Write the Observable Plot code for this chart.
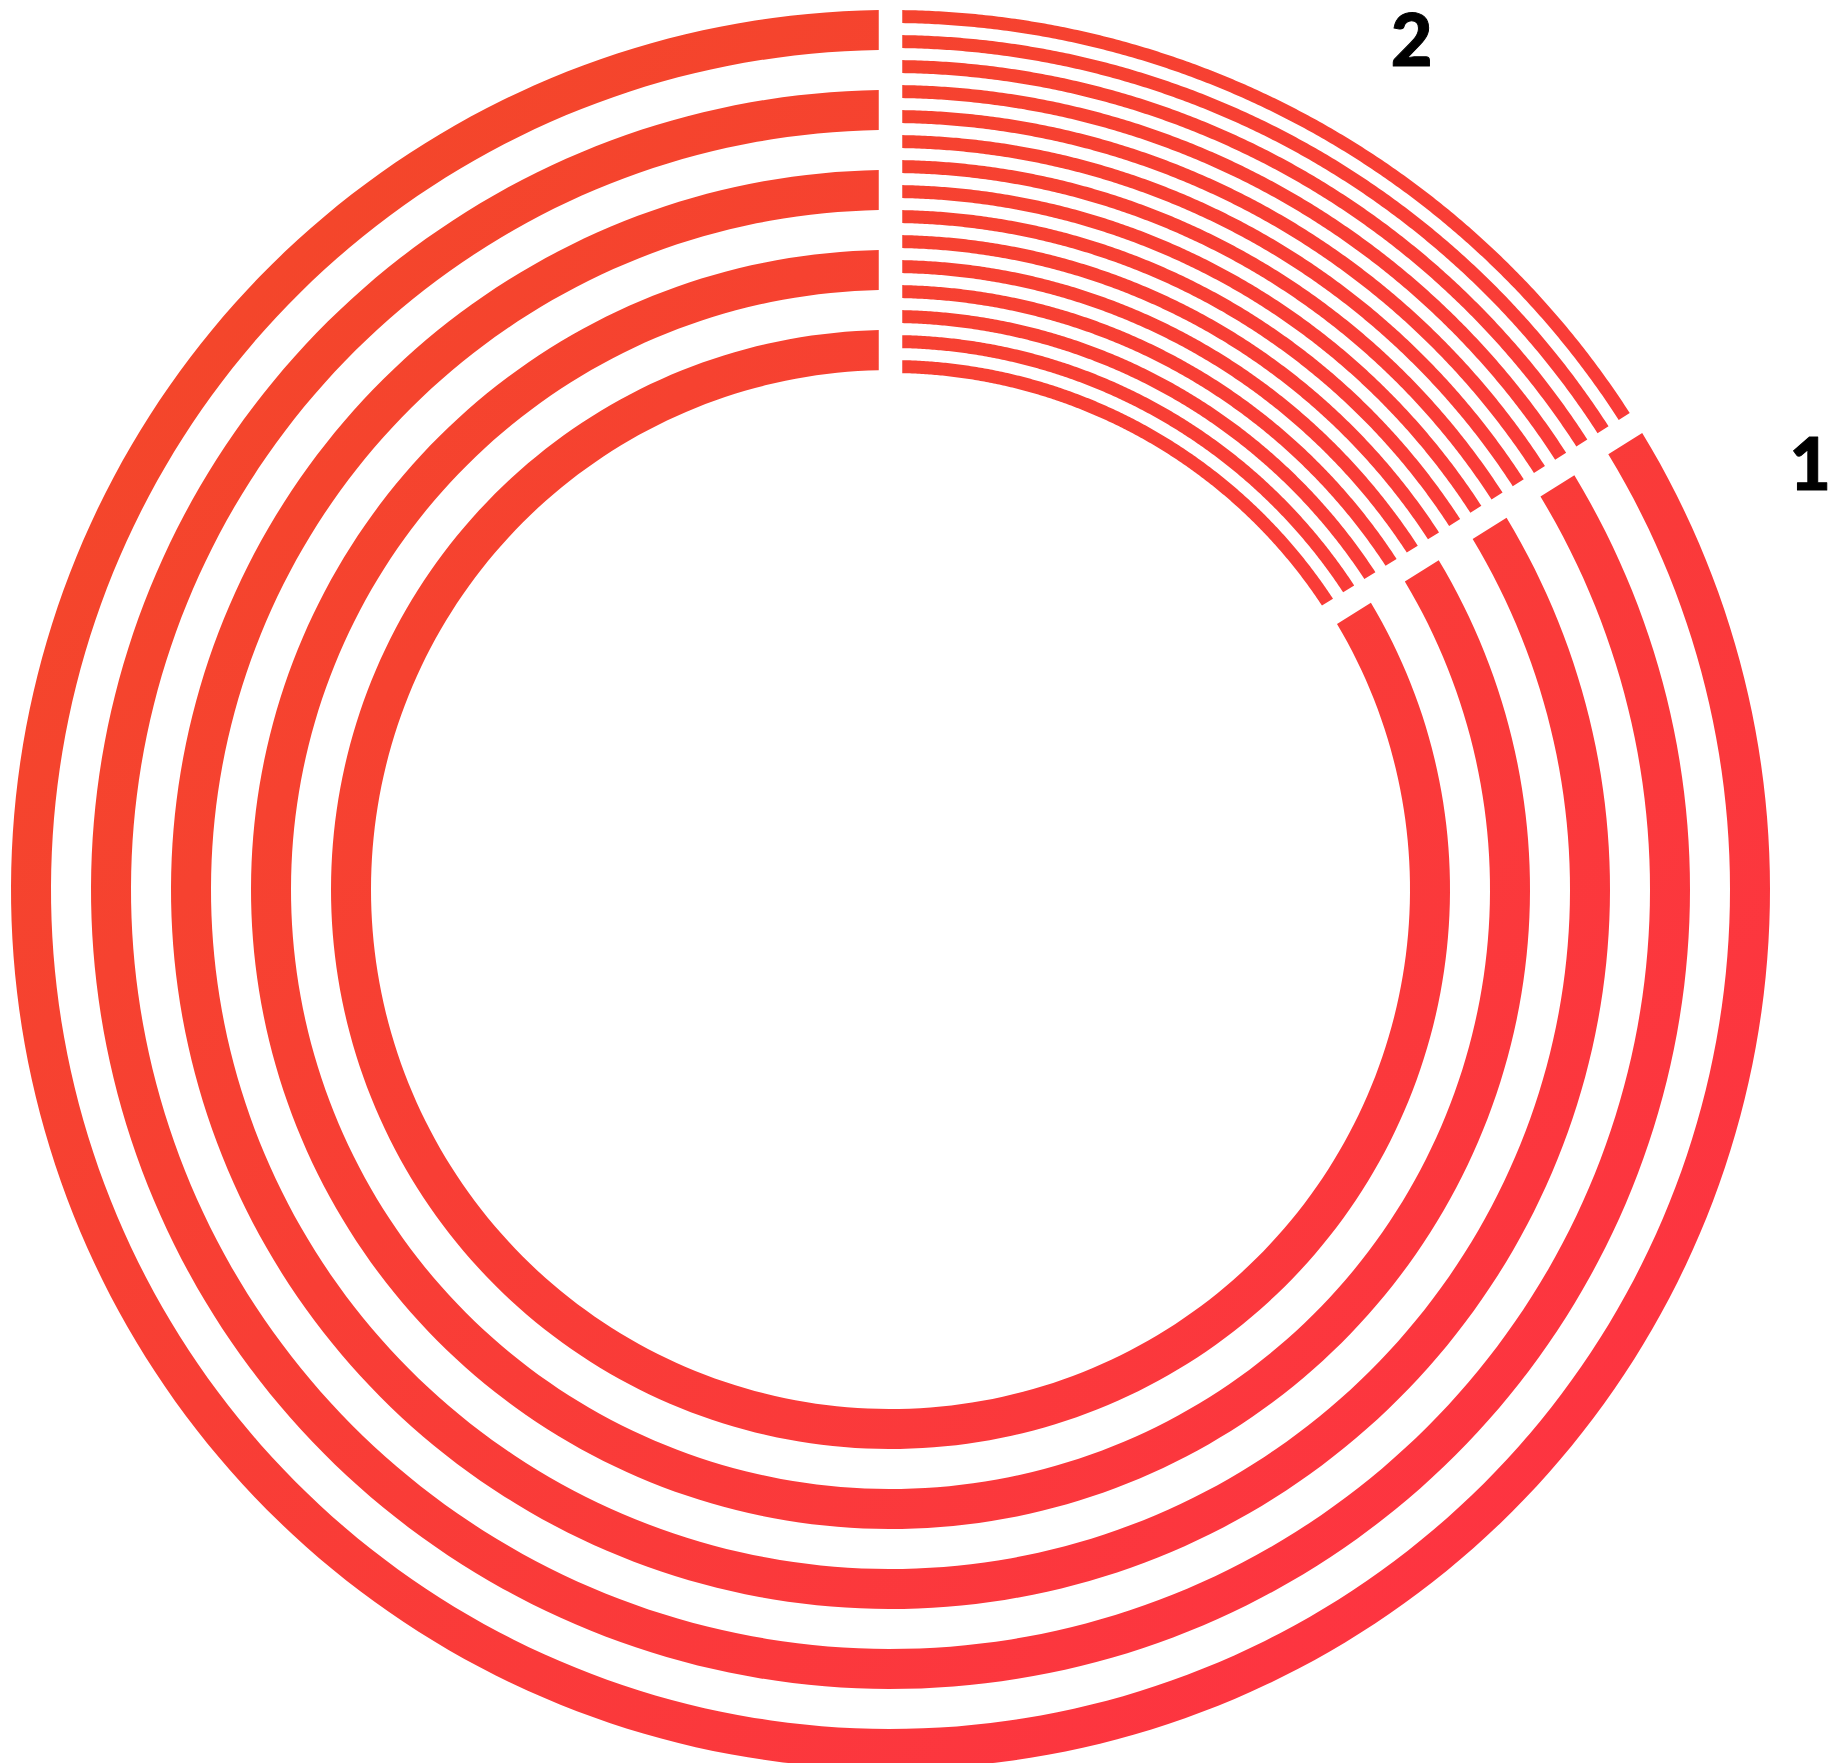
<!DOCTYPE html>
<html>
<head>
<meta charset="utf-8">
<script src="https://cdn.jsdelivr.net/npm/d3@7"></script>
<script src="https://cdn.jsdelivr.net/npm/@observablehq/plot@0.6"></script>
<style>
  html, body { margin: 0; padding: 0; background: #fff; }
  #chart svg { display: block; }
</style>
</head>
<body>
<div id="chart"></div>
<script>
// ---- data ----
const groups = ["2", "1"];              // drawn clockwise from 12 o'clock
const shares = [0.161, 0.839];          // share of the full turn for each group
const ringCounts = [15, 5];             // number of concentric bands in each group
const labels = ["2", "1"];

// ---- geometry helpers ----
const W = 1834, H = 1763;
const cx = 890.5, cy = 889.5;
const halfGap = 11.75;
const steps = 260;

const starts = [], ends = [];
{
  let acc = 0;
  shares.forEach((s, i) => { starts.push(acc * 2 * Math.PI); acc += s; ends.push(acc * 2 * Math.PI); });
}

const radial = [
  d3.scaleBand().domain(d3.range(ringCounts[0])).range([516.5, 879.5]).paddingInner(0.48).paddingOuter(0),
  d3.scaleBand().domain(d3.range(ringCounts[1])).range([519.5, 879.5]).paddingInner(0.5).paddingOuter(0)
];

const rows = [];
groups.forEach((g, gi) => {
  const sc = radial[gi];
  sc.domain().forEach(k => {
    const ri = sc(k), ro = sc(k) + sc.bandwidth();
    const so = starts[gi] + Math.asin(halfGap / ro), eo = ends[gi] - Math.asin(halfGap / ro);
    const si = starts[gi] + Math.asin(halfGap / ri), ei = ends[gi] - Math.asin(halfGap / ri);
    for (let j = 0; j <= steps; j++) {
      const t = j / steps;
      const ao = so + t * (eo - so), ai = si + t * (ei - si);
      rows.push({id: g + "-" + k, x1: ro * Math.sin(ao), y1: ro * Math.cos(ao), x2: ri * Math.sin(ai), y2: ri * Math.cos(ai)});
    }
  });
});

const labelOffset = [2.6, 7.3].map(d => d * Math.PI / 180);
const labelRadius = [994, 1012];
const labelRows = groups.map((g, gi) => {
  const a = (gi === 0 ? (starts[gi] + ends[gi]) / 2 : starts[gi]) + labelOffset[gi];
  return {text: labels[gi], x: labelRadius[gi] * Math.sin(a), y: labelRadius[gi] * Math.cos(a)};
});

function defs() {
  const d = d3.create("svg:defs");
  const lg = d.append("linearGradient").attr("id", "ringGrad")
    .attr("gradientUnits", "userSpaceOnUse")
    .attr("x1", 10).attr("y1", 10).attr("x2", 1770).attr("y2", 1769);
  lg.append("stop").attr("offset", "0%").attr("stop-color", "#f24a26");
  lg.append("stop").attr("offset", "45%").attr("stop-color", "#f83e35");
  lg.append("stop").attr("offset", "100%").attr("stop-color", "#ff3145");
  return d.node();
}

const chart = Plot.plot({
  width: W,
  height: H,
  margin: 0,
  style: {background: "#fff", overflow: "hidden"},
  x: {domain: [-cx, W - cx], axis: null},
  y: {domain: [cy - H, cy], axis: null},
  marks: [
    defs,
    Plot.area(rows, {x1: "x1", y1: "y1", x2: "x2", y2: "y2", z: "id", fill: "url(#ringGrad)", curve: "linear"}),
    Plot.text(labelRows, {x: "x", y: "y", text: "text", fontSize: 72, fontWeight: 900, fontFamily: "Lato, 'DejaVu Sans', sans-serif", fill: "#000", stroke: "#000", strokeWidth: 1, textAnchor: "middle"})
  ]
});
document.getElementById("chart").appendChild(chart);
</script>
</body>
</html>
